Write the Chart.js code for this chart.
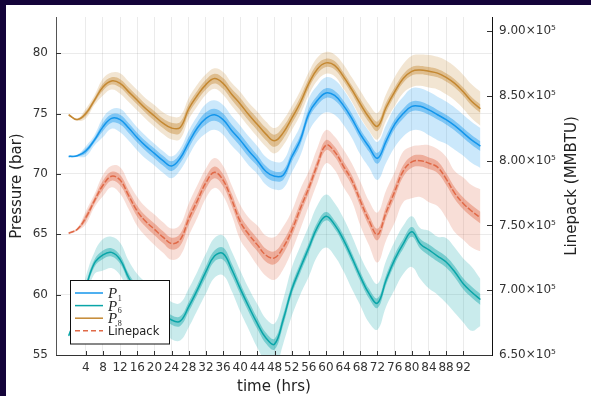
<!DOCTYPE html>
<html>
<head>
<meta charset="utf-8">
<script src="https://cdn.jsdelivr.net/npm/chart.js@4.4.1/dist/chart.umd.min.js"></script>
<style>
  html, body { margin: 0; padding: 0; width: 591px; height: 396px; overflow: hidden; background: #14043a; }
  #frame { position: absolute; left: 6px; top: 5px; width: 585px; height: 391px; background: #ffffff; }
  #wrap { position: absolute; left: 0; top: 0; width: 591px; height: 396px; }
</style>
</head>
<body>
<div id="frame"></div>
<div id="wrap"><canvas id="c" width="591" height="396"></canvas></div>
<script>
// Time samples (hours) for the mean curves
const hours = [0,2,4,6,8,10,12,14,16,18,20,22,24,26,28,30,32,34,36,38,40,42,44,46,48,
               50,52,54,56,58,60,62,64,66,68,70,72,74,76,78,80,82,84,86,88,90,92,94,96];

// Axis tick values
const xTicks = [4,8,12,16,20,24,28,32,36,40,44,48,52,56,60,64,68,72,76,80,84,88,92];
const yTicks = [55,60,65,70,75,80];
const y2Ticks = [650000,700000,750000,800000,850000,900000];

// Legend entries: symbol + subscript
const legendLabels = [['P','1'],['P','6'],['P','8'],['Linepack','']];

// Pressure at node 1 (bar): mean, inner half-width, outer band above / below (every 4 h)
const p1Mean = [71.45,71.5,71.9,72.8,73.9,74.6,74.5,73.8,73.0,72.3,71.7,71.1,70.65,71.3,72.6,73.8,74.6,74.9,74.5,73.6,72.8,71.9,71.1,70.2,69.8,
                69.9,71.4,72.8,75.0,76.1,76.7,76.5,75.7,74.6,73.3,72.25,71.3,72.7,74.1,75.0,75.6,75.6,75.3,74.9,74.5,74.0,73.4,72.8,72.3];
const p1Inner = [0.05,0.2,0.35,0.4,0.4,0.4,0.4,0.45,0.5,0.5,0.5,0.45,0.4,0.4,0.4,0.4,0.4,0.4,0.45,0.4,0.4,0.4,0.4,0.4,0.4];
const p1OuterUp = [0.1,0.4,0.75,0.9,0.85,0.8,0.8,1.0,1.2,1.2,1.2,1.2,1.2,1.2,1.25,1.3,1.3,1.3,1.35,1.4,1.5,1.5,1.5,1.5,1.5];
const p1OuterDown = [0.1,0.45,0.85,1.05,1.05,1.0,1.0,1.1,1.25,1.25,1.2,1.1,1.1,1.3,1.5,1.6,1.6,1.7,1.8,1.9,2.0,2.1,2.0,1.9,1.8];

// Pressure at node 6 (bar)
const p6Mean = [56.6,58.4,60.6,62.6,63.3,63.5,62.9,61.4,60.3,59.6,59.0,58.5,57.9,57.8,59.0,60.4,61.9,63.2,63.4,62.1,60.5,59.0,57.6,56.4,55.9,
                57.9,60.4,62.2,63.9,65.6,66.5,65.8,64.6,63.1,61.5,60.1,59.3,61.2,62.9,64.2,65.2,64.2,63.7,63.2,62.7,61.9,60.9,60.2,59.6];
const p6Inner = [0.1,0.3,0.35,0.35,0.4,0.4,0.4,0.4,0.45,0.5,0.45,0.45,0.45,0.4,0.4,0.35,0.4,0.4,0.4,0.4,0.4,0.45,0.45,0.45,0.45];
const p6OuterUp = [0.2,0.9,1.3,1.4,1.4,1.4,1.5,1.5,1.5,1.5,1.5,1.6,1.7,1.8,1.8,1.8,1.8,1.7,1.6,1.5,1.3,1.6,2.0,2.1,1.7];
const p6OuterDown = [0.2,0.9,1.3,1.3,1.4,1.5,1.6,1.7,1.8,1.8,1.9,2.0,2.0,2.2,2.4,2.6,2.6,2.4,2.2,2.5,2.9,3.2,3.4,3.2,2.2];

// Pressure at node 8 (bar)
const p8Mean = [74.9,74.5,75.0,76.1,77.2,77.7,77.5,76.8,76.1,75.4,74.8,74.2,73.8,73.85,75.4,76.5,77.4,77.9,77.5,76.6,75.8,74.9,74.1,73.3,72.75,
                73.4,74.6,75.9,77.5,78.7,79.2,79.0,78.1,77.0,75.8,74.7,73.95,75.5,76.8,77.9,78.5,78.6,78.5,78.35,78.0,77.5,76.8,76.0,75.4];
const p8Inner = [0.05,0.2,0.3,0.35,0.35,0.4,0.45,0.4,0.4,0.45,0.5,0.5,0.5,0.45,0.4,0.35,0.35,0.4,0.4,0.35,0.35,0.35,0.35,0.35,0.35];
const p8OuterUp = [0.1,0.4,0.7,0.85,0.85,0.9,0.95,0.9,0.85,0.95,1.0,1.05,1.05,1.0,0.95,0.9,1.0,1.1,1.1,1.2,1.3,1.35,1.4,1.4,1.4];
const p8OuterDown = p8OuterUp;

// Linepack (MMBTU), right axis
const lpMean = [744000,747000,756000,769000,781000,788000,785000,773000,761000,753000,747000,741000,736000,739000,755000,769000,783000,791000,785000,770000,753000,743000,735000,727000,725000,
                733000,746000,763000,779000,797000,812000,807000,796000,785000,769000,754000,743000,760000,776000,792000,799000,800000,798000,795000,786000,775000,767000,761000,756000];
const lpInner = [500,2500,3500,4000,4200,4500,4600,4600,4500,4600,4800,5000,5000,4500,4000,3900,4000,4200,4500,4500,4500,4500,4500,4500,4500];
const lpOuterUp = [1000,5000,8000,10000,11000,11500,11600,12000,11000,11000,13000,15000,16000,15000,13000,11600,13000,15000,17000,15000,12000,14000,17000,20000,22000];
const lpOuterDown = [1000,5000,8500,10500,11500,12000,12500,13000,12000,12000,14000,16000,17000,16000,14000,14000,16000,19000,21600,24000,28000,30000,30000,28000,26000];

// Series colours (r,g,b)
const colP1 = '20,150,235';
const colP6 = '10,165,168';
const colP8 = '196,136,50';
const colLP = '224,106,72';

const datasets = [];
const clear = 'rgba(0,0,0,0)';

// One series = outer ribbon, inner ribbon, mean line
function addSeries(label, mean, wIn, wUp, wDn, rgb, axis, orderBase, dash) {
  const edge = (sign, w) => hours.map((h, i) => ({ x: h, y: mean[i] + sign * w[Math.floor(i / 2)] }));
  const base = { yAxisID: axis, pointRadius: 0, borderWidth: 0, borderColor: clear, tension: 0.4 };
  datasets.push({ ...base, data: edge(-1, wDn), fill: false, order: orderBase + 4 });
  datasets.push({ ...base, data: edge(1, wUp), fill: '-1', backgroundColor: `rgba(${rgb},0.22)`, order: orderBase + 3 });
  datasets.push({ ...base, data: edge(-1, wIn), fill: false, order: orderBase + 2 });
  datasets.push({ ...base, data: edge(1, wIn), fill: '-1', backgroundColor: `rgba(${rgb},0.42)`, order: orderBase + 1 });
  datasets.push({ ...base, label, data: hours.map((h, i) => ({ x: h, y: mean[i] })), fill: false,
                  borderWidth: 1.5, borderColor: `rgb(${rgb})`, borderDash: dash || [], order: orderBase });
}

addSeries('P1', p1Mean, p1Inner, p1OuterUp, p1OuterDown, colP1, 'y', 30);
addSeries('P6', p6Mean, p6Inner, p6OuterUp, p6OuterDown, colP6, 'y', 20);
addSeries('P8', p8Mean, p8Inner, p8OuterUp, p8OuterDown, colP8, 'y', 10);
addSeries('Linepack', lpMean, lpInner, lpOuterUp, lpOuterDown, colLP, 'y2', 0, [6, 2]);

const legendColors = [colP1, colP6, colP8, colLP];

// Inward tick marks, right-hand axis title and the boxed legend
const extras = {
  id: 'extras',
  afterDatasetsDraw(chart) {
    const { ctx, chartArea: a, scales: { x, y, y2 } } = chart;
    ctx.save();
    ctx.strokeStyle = '#333';
    ctx.lineWidth = 1;
    ctx.beginPath();
    xTicks.forEach(v => { const p = Math.round(x.getPixelForValue(v)) + 0.5; ctx.moveTo(p, a.bottom); ctx.lineTo(p, a.bottom - 4); });
    yTicks.forEach(v => { const p = Math.round(y.getPixelForValue(v)) + 0.5; ctx.moveTo(a.left, p); ctx.lineTo(a.left + 5, p); });
    y2Ticks.forEach(v => { const p = Math.round(y2.getPixelForValue(v)) + 0.5; ctx.moveTo(a.right, p); ctx.lineTo(a.right - 5, p); });
    ctx.stroke();
    ctx.restore();

    ctx.save();
    ctx.translate(572, (a.top + a.bottom) / 2);
    ctx.rotate(-Math.PI / 2);
    ctx.font = '15px "DejaVu Sans"';
    ctx.fillStyle = '#222';
    ctx.textAlign = 'center';
    ctx.textBaseline = 'middle';
    ctx.fillText('Linepack (MMBTU)', 0, 0);
    ctx.restore();

    // legend box
    ctx.save();
    const bx = 70.5, by = 280.5, bw = 99, bh = 63.5;
    ctx.fillStyle = '#fff';
    ctx.fillRect(bx, by, bw, bh);
    ctx.strokeStyle = '#111';
    ctx.lineWidth = 1;
    ctx.strokeRect(bx, by, bw, bh);
    legendLabels.forEach((lab, i) => {
      const ry = 293 + i * 12.6;
      ctx.beginPath();
      ctx.strokeStyle = `rgb(${legendColors[i]})`;
      ctx.lineWidth = 1.5;
      ctx.setLineDash(i === 3 ? [5, 3] : []);
      ctx.moveTo(75, ry);
      ctx.lineTo(103, ry);
      ctx.stroke();
      ctx.setLineDash([]);
      ctx.fillStyle = '#222';
      ctx.textAlign = 'left';
      ctx.textBaseline = 'alphabetic';
      if (lab[1]) {
        ctx.font = 'italic 15px "Liberation Serif"';
        ctx.fillText(lab[0], 108, ry + 5);
        const w = ctx.measureText(lab[0]).width;
        ctx.font = '8px "Liberation Serif"';
        ctx.fillText(lab[1], 108 + w + 0.5, ry + 7.5);
      } else {
        ctx.font = '11.5px "DejaVu Sans"';
        ctx.fillText(lab[0], 108, ry + 4);
      }
    });
    ctx.restore();
  }
};

const tickFont = { family: 'DejaVu Sans', size: 12 };
const titleFont = { family: 'DejaVu Sans', size: 15 };

new Chart(document.getElementById('c'), {
  type: 'line',
  data: { datasets },
  options: {
    responsive: false,
    animation: false,
    devicePixelRatio: 1,
    layout: { padding: { top: 17, left: 0, right: 0, bottom: 0 } },
    plugins: { legend: { display: false }, tooltip: { enabled: false } },
    scales: {
      x: {
        type: 'linear', min: -2.95, max: 98.7,
        afterBuildTicks: s => { s.ticks = xTicks.map(v => ({ value: v })); },
        afterFit: s => { s.height = 41; },
        grid: { color: 'rgba(0,0,0,0.08)', drawTicks: false },
        border: { display: true, color: '#333', width: 1 },
        ticks: { padding: 6, font: tickFont, color: '#333', maxRotation: 0, autoSkip: false },
        title: { display: true, text: 'time (hrs)', font: titleFont, color: '#222', padding: { top: 1.5, bottom: 0 } }
      },
      y: {
        position: 'left', min: 55, max: 83,
        afterBuildTicks: s => { s.ticks = yTicks.map(v => ({ value: v })); },
        afterFit: s => { s.width = 56; },
        grid: { color: 'rgba(0,0,0,0.08)', drawTicks: false },
        border: { display: true, color: '#555', width: 1 },
        ticks: { padding: 8, font: tickFont, color: '#333' },
        title: { display: true, text: 'Pressure (bar)', font: titleFont, color: '#222', padding: { top: 8, bottom: 0 } }
      },
      y2: {
        position: 'right', min: 650000, max: 910900,
        afterBuildTicks: s => { s.ticks = y2Ticks.map(v => ({ value: v })); },
        afterFit: s => { s.width = 99; },
        grid: { display: false, drawTicks: false },
        border: { display: true, color: '#111', width: 1 },
        ticks: { padding: 7, font: tickFont, color: '#333', callback: v => (v / 1e5).toFixed(2) + '×10⁵' }
      }
    }
  },
  plugins: [extras]
});
</script>
</body>
</html>
